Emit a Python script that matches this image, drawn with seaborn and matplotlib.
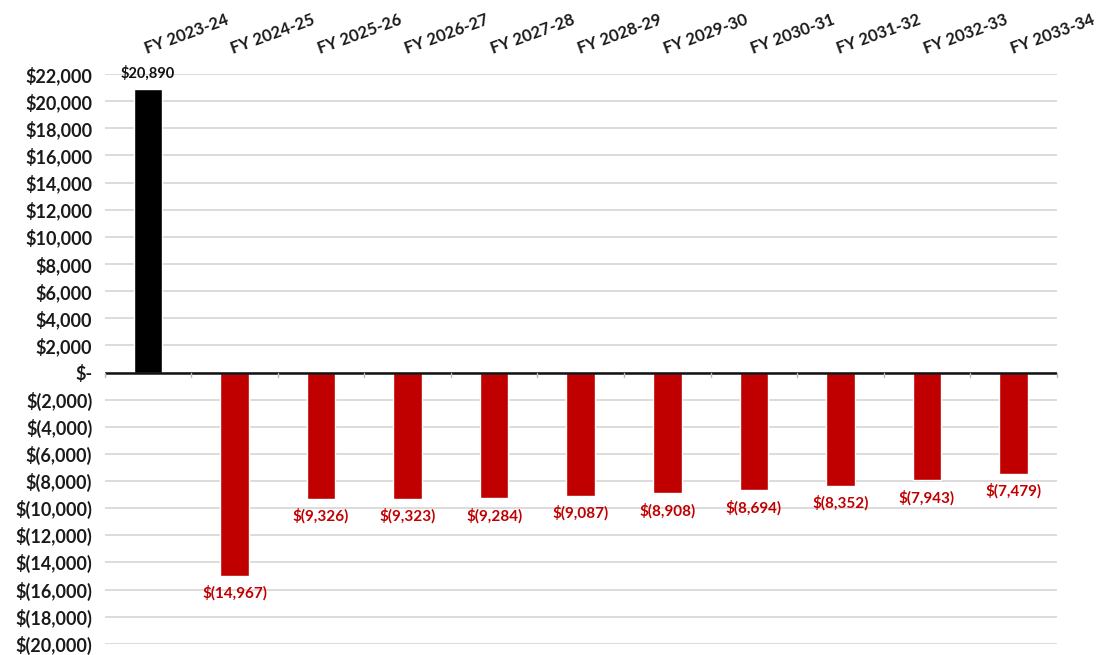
import pandas as pd
import matplotlib
matplotlib.use("Agg")
from matplotlib import pyplot as plt
import seaborn as sns

years = ["FY 2023-24", "FY 2024-25", "FY 2025-26", "FY 2026-27", "FY 2027-28", "FY 2028-29",
         "FY 2029-30", "FY 2030-31", "FY 2031-32", "FY 2032-33", "FY 2033-34"]
amounts = [20890, -14967, -9326, -9323, -9284, -9087, -8908, -8694, -8352, -7943, -7479]
y_ticks = list(range(-20000, 22001, 2000))

RED = "#C00000"


def money(v):
    if v == 0:
        return "$-"
    if v < 0:
        return f"$({abs(v):,.0f})"
    return f"${v:,.0f}"


df = pd.DataFrame({"Year": years, "Amount": amounts})
colors = ["#000000" if a >= 0 else RED for a in amounts]

sns.set_style("white")
plt.rcParams["font.family"] = ["Lato", "DejaVu Sans"]

fig = plt.figure(figsize=(11.02, 6.55), dpi=100)
ax = fig.add_axes([0.095, 0.017, 0.864, 0.870])

sns.barplot(data=df, x="Year", y="Amount", hue="Year", palette=colors,
            width=0.33, saturation=1, legend=False, ax=ax, zorder=3)

ax.set_ylim(-20000, 22000)
ax.set_xlim(-0.5, len(years) - 0.5)
ax.set_yticks(y_ticks)
ax.set_yticklabels([money(t) for t in y_ticks], fontsize=13, fontweight="bold", color="#1a1a1a")
ax.yaxis.grid(True, color="#d9d9d9", linewidth=1.3, zorder=0)
ax.tick_params(axis="y", length=0, pad=9)

for s in ax.spines.values():
    s.set_visible(False)

# zero line with small category tick marks
ax.axhline(0, color="#111111", linewidth=1.8, zorder=4)
for b in range(len(years) + 1):
    ax.plot([b - 0.5, b - 0.5], [0, -350], color="#bbbbbb", linewidth=1, zorder=4, clip_on=False)

# category labels at the top, rotated
ax.set_xticks([])
ax.set_xlabel("")
ax.set_ylabel("")
for i, name in enumerate(years):
    ax.text(i, 23300, name, rotation=20, ha="left", va="bottom", rotation_mode="anchor",
            fontsize=12, fontweight="bold", color="#1a1a1a", clip_on=False)

# value labels
for i, v in enumerate(amounts):
    if v >= 0:
        ax.text(i, v + 600, money(v), ha="center", va="bottom", fontsize=10.5,
                fontweight="bold", color="#111111")
    else:
        ax.text(i, v - 700, money(v), ha="center", va="top", fontsize=11,
                fontweight="bold", color=RED)

fig.savefig("out.png", dpi=100)
